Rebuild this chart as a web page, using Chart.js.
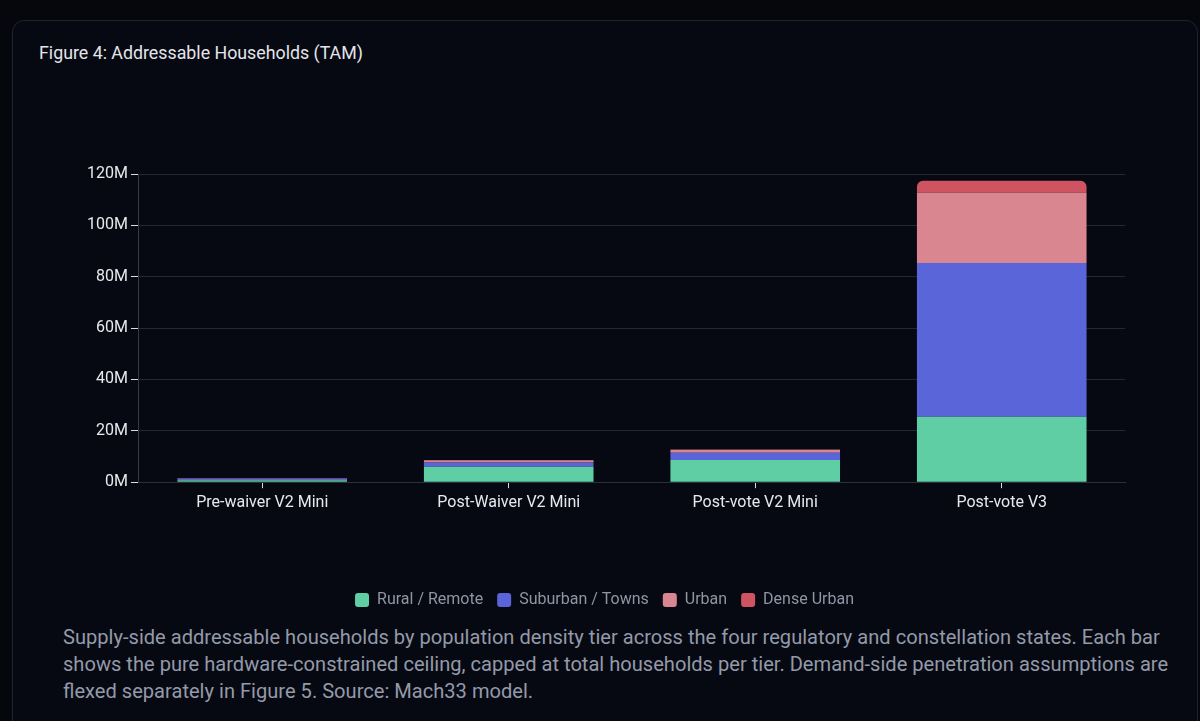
<!DOCTYPE html>
<html>
<head>
<meta charset="utf-8">
<script src="https://cdn.jsdelivr.net/npm/chart.js@4"></script>
<style>
    html, body { margin: 0; padding: 0; background: #05070d; width: 1200px; height: 721px; overflow: hidden; font-family: Roboto, "Noto Sans", sans-serif; }
    .card { position: absolute; left: 12px; top: 20px; width: 1184px; height: 740px; border: 1px solid #1f2330; border-radius: 12px; background: #070912; }
    .title { position: absolute; left: 39px; top: 42px; font-size: 17.8px; color: #e3e5ea; white-space: nowrap; }
    .chart-box { position: absolute; left: 0; top: 148px; width: 1200px; height: 470px; }
    .caption { position: absolute; left: 63px; top: 624px; font-size: 20.1px; line-height: 27px; color: #939aa9; white-space: nowrap; }
</style>
</head>
<body>
<div class="card"></div>
<div class="title">Figure 4: Addressable Households (TAM)</div>
<div class="chart-box"><canvas id="tam-chart"></canvas></div>
<div class="caption">Supply-side addressable households by population density tier across the four regulatory and constellation states. Each bar<br>shows the pure hardware-constrained ceiling, capped at total households per tier. Demand-side penetration assumptions are<br>flexed separately in Figure 5. Source: Mach33 model.</div>
<script>
// หมวดหมู่ (สถานะ)
const categories = ['Pre-waiver V2 Mini', 'Post-Waiver V2 Mini', 'Post-vote V2 Mini', 'Post-vote V3'];

// ค่าแต่ละชั้นความหนาแน่น (ล้านครัวเรือน)
const ruralRemote = [0.8, 6.0, 8.6, 25.5];
const suburbanTowns = [0.5, 1.7, 2.9, 59.8];
const urban = [0.2, 0.8, 1.1, 27.4];
const denseUrban = [0.05, 0.1, 0.1, 4.7];

// ป้ายแกน Y
const yTicks = [0, 20, 40, 60, 80, 100, 120];

const ctx = document.getElementById('tam-chart').getContext('2d');

window.tamChart = new Chart(ctx, {
    type: 'bar',
    data: {
        labels: categories,
        datasets: [
            { label: 'Rural / Remote', data: ruralRemote, backgroundColor: '#60cea4' },
            { label: 'Suburban / Towns', data: suburbanTowns, backgroundColor: '#5a65d9' },
            { label: 'Urban', data: urban, backgroundColor: '#d98690' },
            { label: 'Dense Urban', data: denseUrban, backgroundColor: '#cf5462', borderRadius: 8 }
        ]
    },
    options: {
        responsive: true,
        maintainAspectRatio: false,
        animation: false,
        layout: { padding: { left: 84, right: 75, top: 26, bottom: 0 } },
        datasets: { bar: { categoryPercentage: 0.8, barPercentage: 0.86 } },
        plugins: {
            tooltip: { enabled: false },
            legend: {
                position: 'bottom',
                labels: {
                    color: '#8e95a3',
                    font: { family: 'Roboto', size: 16 },
                    boxWidth: 14,
                    boxHeight: 14,
                    useBorderRadius: true,
                    borderRadius: 3,
                    padding: 14
                }
            }
        },
        scales: {
            x: {
                stacked: true,
                grid: { drawOnChartArea: false, offset: false, tickLength: 6, tickColor: '#d8dbe2' },
                border: { color: '#2a2f3d' },
                ticks: { color: '#e8e9ec', font: { family: 'Roboto', size: 16 }, padding: 5 },
                afterFit: function(scale) { scale.height += 60.6; }
            },
            y: {
                stacked: true,
                min: 0,
                max: 120,
                afterBuildTicks: function(scale) {
                    scale.ticks = yTicks.map(v => ({ value: v }));
                },
                grid: { color: '#232837', tickLength: 8, tickColor: '#d8dbe2' },
                border: { color: '#343948' },
                ticks: {
                    color: '#e8e9ec',
                    font: { family: 'Roboto', size: 16 },
                    padding: 3,
                    callback: function(value) { return value + 'M'; }
                }
            }
        }
    }
});
</script>
</body>
</html>
